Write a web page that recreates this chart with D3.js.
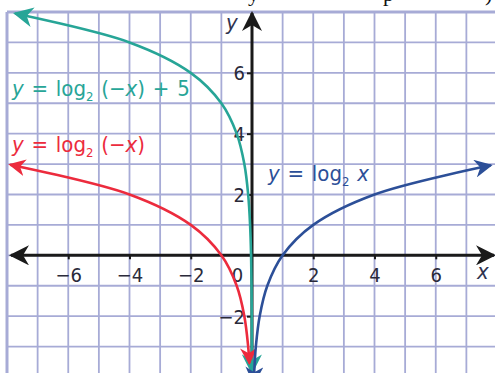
<!DOCTYPE html>
<html lang="en">
<head>
  <meta charset="UTF-8">
  <title>Logarithmic functions</title>
  <script src="https://d3js.org/d3.v7.min.js"></script>
  <style>
    body { margin: 0; background: #fff; }
    svg { display: block; }
    .tick-label { font-family: "DejaVu Sans Condensed", "Open Sans", sans-serif; font-size: 20px; fill: #2a2a3a; }
    .eq { font-family: "DejaVu Sans Condensed", "Open Sans", sans-serif; font-size: 22px; word-spacing: 1.5px; }
  </style>
</head>
<body>
  <div id="chart"></div>

  <script>
    // tick labels
    const xTicks = [-6, -4, -2, 0, 2, 4, 6];
    const yTicks = [-2, 2, 4, 6];

    // points
    const blueLog = [[0.055, -4.2], [0.09, -3.5], [0.125, -3], [0.25, -2], [0.5, -1], [1, 0], [2, 1], [4, 2], [7.8, 2.96]];
    const redLog = [[-7.9, 2.98], [-4, 2], [-2, 1], [-1, 0], [-0.5, -1], [-0.25, -2], [-0.125, -3], [-0.085, -3.55]];
    const tealLog = [[-7.74, 7.95], [-4, 7], [-2, 6], [-1, 5], [-0.5, 4], [-0.25, 3], [-0.125, 2], [-0.0625, 1], [-0.03, 0], [-0.015, -1], [-0.008, -2], [-0.004, -3], [-0.002, -3.85]];

    const labels = [
      { color: "#27a597", x: 12, y: 96, parts: [["y", true], [" = log", false], ["2", "sub"], [" (\u2212", false], ["x", true], [") + 5", false]] },
      { color: "#ec2b3d", x: 12, y: 152, parts: [["y", true], [" = log", false], ["2", "sub"], [" (\u2212", false], ["x", true], [")", false]] },
      { color: "#2c4f98", x: 268, y: 181, parts: [["y", true], [" = log", false], ["2", "sub"], [" ", false], ["x", true]] }
    ];

    const width = 495, height = 373;
    const svg = d3.select("#chart").append("svg")
      .attr("width", width)
      .attr("height", height);

    const x = d3.scaleLinear().domain([-8, 8]).range([7, 497]);
    const y = d3.scaleLinear().domain([8, -4]).range([12, 377]);

    const defs = svg.append("defs");
    function marker(id, color, size) {
      defs.append("marker")
        .attr("id", id)
        .attr("viewBox", "0 0 10 10")
        .attr("refX", 9).attr("refY", 5)
        .attr("markerWidth", size).attr("markerHeight", size)
        .attr("markerUnits", "userSpaceOnUse")
        .attr("orient", "auto-start-reverse")
        .append("path")
        .attr("d", "M0,0 L10,5 L0,10 L3,5 Z")
        .attr("fill", color);
    }
    marker("arrK", "#1a1a1a", 20);
    marker("arrT", "#27a597", 20);
    marker("arrR", "#ec2b3d", 17);
    marker("arrB", "#2c4f98", 18);

    // grid
    const grid = svg.append("g").attr("stroke", "#a7abd6").attr("stroke-width", 1.8);
    grid.selectAll(".gx").data(d3.range(-8, 9)).enter().append("line")
      .attr("x1", d => x(d)).attr("x2", d => x(d))
      .attr("y1", y(8)).attr("y2", height)
      .attr("stroke-width", d => d === -8 ? 3 : 1.8);
    grid.selectAll(".gy").data(d3.range(-3, 9)).enter().append("line")
      .attr("x1", x(-8)).attr("x2", width)
      .attr("y1", d => y(d)).attr("y2", d => y(d))
      .attr("stroke-width", d => d === 8 ? 3 : 1.8);

    // text of the page above, cut by the picture's top edge
    svg.append("g")
      .attr("font-family", "Liberation Serif, serif")
      .attr("font-size", 22)
      .attr("fill", "#111")
      .selectAll("text")
      .data([["y", 248], ["p", 383], [")", 485]])
      .enter().append("text")
      .attr("x", d => d[1]).attr("y", 1)
      .text(d => d[0]);

    // axes
    const xAxis = svg.append("g")
      .attr("transform", `translate(0,${y(0)})`)
      .call(d3.axisBottom(x).tickValues(xTicks).tickSize(4).tickFormat(d => d < 0 ? "\u2212" + Math.abs(d) : d));
    xAxis.select(".domain").remove();
    xAxis.selectAll(".tick line").attr("stroke", "#1a1a1a").attr("stroke-width", 2);
    xAxis.selectAll(".tick text")
      .attr("class", "tick-label")
      .attr("y", 9)
      .attr("dy", "0.9em")
      .attr("dx", d => d === 0 ? -15 : 0);
    xAxis.selectAll(".tick").filter(d => d === 0).select("line").remove();

    const yAxis = svg.append("g")
      .attr("transform", `translate(${x(0)},0)`)
      .call(d3.axisLeft(y).tickValues(yTicks).tickSize(5).tickFormat(d => d < 0 ? "\u2212" + Math.abs(d) : d));
    yAxis.select(".domain").remove();
    yAxis.selectAll(".tick line").attr("stroke", "#1a1a1a").attr("stroke-width", 2);
    yAxis.selectAll(".tick text")
      .attr("class", "tick-label")
      .attr("x", -7)
      .attr("dy", "0.35em");

    svg.append("line")
      .attr("x1", x(-8) + 4).attr("x2", width - 1)
      .attr("y1", y(0)).attr("y2", y(0))
      .attr("stroke", "#1a1a1a").attr("stroke-width", 3)
      .attr("marker-start", "url(#arrK)").attr("marker-end", "url(#arrK)");
    svg.append("line")
      .attr("x1", x(0)).attr("x2", x(0))
      .attr("y1", height).attr("y2", y(8) + 1)
      .attr("stroke", "#1a1a1a").attr("stroke-width", 3)
      .attr("marker-end", "url(#arrK)");

    svg.append("text").attr("class", "eq")
      .attr("x", x(0) - 26).attr("y", 30)
      .attr("font-style", "italic").attr("fill", "#30334f")
      .text("y");
    svg.append("text").attr("class", "eq")
      .attr("x", 477).attr("y", 279)
      .attr("font-style", "italic").attr("fill", "#30334f")
      .text("x");

    // curves
    const line = d3.line().x(d => x(d[0])).y(d => y(d[1])).curve(d3.curveCatmullRom.alpha(0.5));
    const curves = [
      { data: tealLog, color: "#27a597", m: "arrT" },
      { data: redLog, color: "#ec2b3d", m: "arrR" },
      { data: blueLog, color: "#2c4f98", m: "arrB" }
    ];
    svg.selectAll(".curve").data(curves).enter().append("path")
      .attr("d", d => line(d.data))
      .attr("fill", "none")
      .attr("stroke", d => d.color)
      .attr("stroke-width", 2.6)
      .attr("marker-start", d => `url(#${d.m})`)
      .attr("marker-end", d => `url(#${d.m})`);

    // equation labels, subscript 2 lowered then baseline restored
    labels.forEach(l => {
      const t = svg.append("text").attr("class", "eq")
        .attr("x", l.x).attr("y", l.y).attr("fill", l.color);
      let afterSub = false;
      l.parts.forEach(p => {
        const s = t.append("tspan").text(p[0]);
        if (p[1] === true) s.attr("font-style", "italic");
        if (p[1] === "sub") {
          s.attr("font-size", 13).attr("dy", 5);
          afterSub = true;
        } else if (afterSub) {
          s.attr("dy", -5);
          afterSub = false;
        }
      });
    });
  </script>
</body>
</html>
